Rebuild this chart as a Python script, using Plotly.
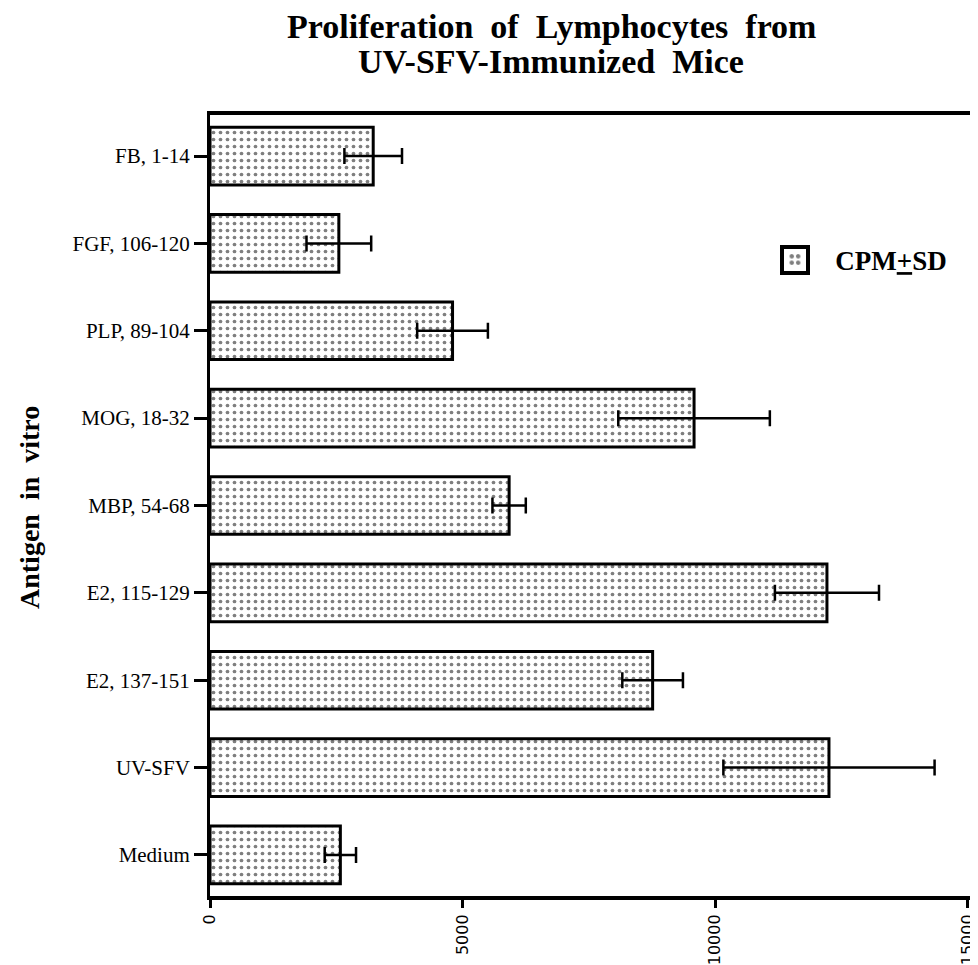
import plotly.graph_objects as go

categories = ["FB, 1-14", "FGF, 106-120", "PLP, 89-104", "MOG, 18-32", "MBP, 54-68",
              "E2, 115-129", "E2, 137-151", "UV-SFV", "Medium"]
cpm = [3230, 2550, 4800, 9580, 5920, 12210, 8760, 12250, 2580]
sd = [570, 640, 700, 1500, 330, 1030, 600, 2090, 310]
x_ticks = [0, 5000, 10000, 15000]
title_lines = ["Proliferation  of  Lymphocytes  from", "UV-SFV-Immunized  Mice"]
y_title = "Antigen  in  vitro"
legend_name = "CPM<u>+</u>SD"

serif = "Liberation Serif, Times New Roman, serif"
NB = "\u00a0"

# page has an 8px body margin: work in page pixels and convert
OFF = 8
W, H = 978 - OFF, 965 - OFF
PL, PR, PT, PB = 210, 975, 115, 896          # plot area in page pixels
L, T = PL - OFF, PT - OFF
R = W - (PR - OFF)
B = H - (PB - OFF)
pw, ph = W - L - R, H - T - B

def fx(px):
    return (px - OFF - L) / pw

def fy(py):
    return (H - B - (py - OFF)) / ph

fig = go.Figure()
fig.add_trace(go.Bar(
    y=categories, x=cpm, orientation="h",
    name=legend_name, showlegend=False,
    width=0.66,
    marker=dict(color="white", line=dict(color="black", width=3),
                pattern=dict(shape=".", fgcolor="black", bgcolor="white",
                             size=7, solidity=0.22)),
    error_x=dict(type="data", array=sd, visible=True, color="black",
                 thickness=2.5, width=8),
))
# legend entry only (null data point, nothing drawn)
fig.add_trace(go.Bar(
    y=[None], x=[None], orientation="h",
    name=NB * 3 + "<b>" + legend_name + "</b>", showlegend=True,
    hoverinfo="skip",
    marker=dict(color="white", line=dict(color="black", width=0),
                pattern=dict(shape=".", fgcolor="black", bgcolor="white",
                             size=8, solidity=0.4)),
))

fig.update_layout(
    width=W, height=H,
    barmode="overlay",
    margin=dict(l=L, r=R, t=T, b=B, autoexpand=False),
    plot_bgcolor="white", paper_bgcolor="white",
    showlegend=True,
    legend=dict(x=fx(775), y=fy(260), xanchor="left", yanchor="middle",
                font=dict(family=serif, size=27, color="black"),
                bgcolor="rgba(0,0,0,0)"),
)
fig.update_xaxes(
    range=[0, 15140], tickvals=x_ticks, ticktext=[str(v) for v in x_ticks],
    tickangle=-90, ticks="outside", ticklen=8, tickwidth=2.5, tickcolor="black",
    showline=True, linewidth=4, linecolor="black", mirror=True,
    showgrid=False, zeroline=False, automargin=False,
    tickfont=dict(family="DejaVu Sans, sans-serif", size=16, color="black"),
)
fig.update_yaxes(
    categoryorder="array", categoryarray=categories, autorange=False,
    range=[8.47, -0.47],
    ticks="outside", ticklen=13, tickwidth=2.5, tickcolor="black",
    showline=True, linewidth=3, linecolor="black", mirror=True,
    showgrid=False, zeroline=False, automargin=False,
    tickfont=dict(family=serif, size=21, color="black"),
)

# legend swatch frame
fig.add_shape(type="rect", xref="paper", yref="paper",
              x0=fx(782), x1=fx(808), y0=fy(273), y1=fy(247),
              line=dict(color="black", width=4), fillcolor="rgba(0,0,0,0)", layer="above")

# title lines
for txt, cy in zip(title_lines, [26, 61]):
    fig.add_annotation(text="<b>" + txt.replace("  ", " " + NB) + "</b>",
                       xref="paper", yref="paper",
                       x=fx(551), y=fy(cy),
                       xanchor="center", yanchor="middle", showarrow=False,
                       font=dict(family=serif, size=34, color="black"))

fig.add_annotation(text="<b>" + y_title.replace("  ", " " + NB) + "</b>", textangle=-90,
                   xref="paper", yref="paper", x=fx(29), y=fy(508),
                   xanchor="center", yanchor="middle",
                   showarrow=False, font=dict(family=serif, size=28, color="black"))

fig.write_html("out.html")
